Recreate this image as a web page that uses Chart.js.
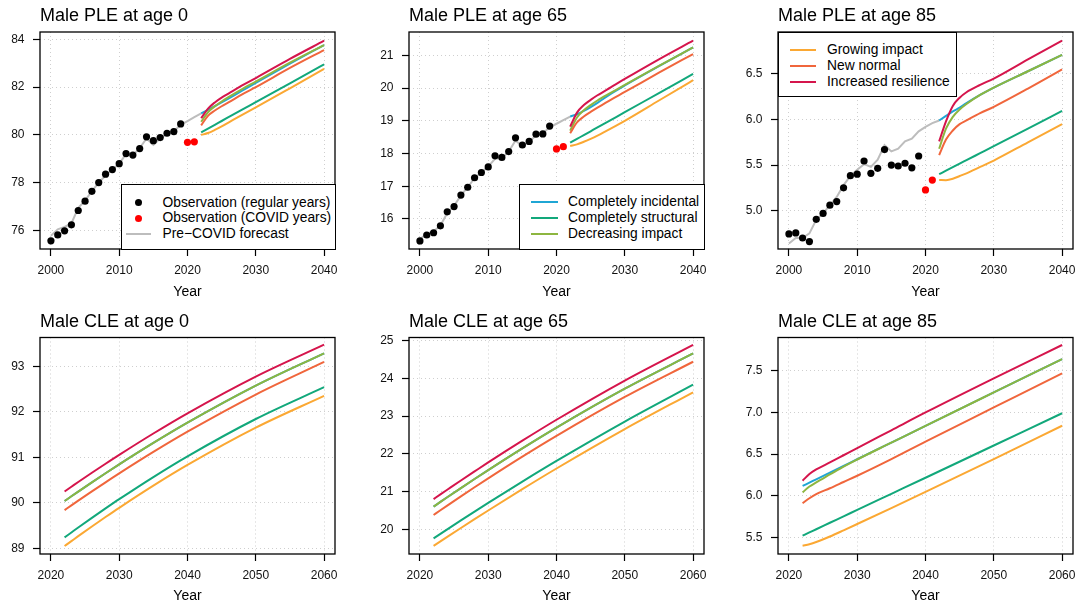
<!DOCTYPE html>
<html><head><meta charset="utf-8">
<script src="https://cdn.jsdelivr.net/npm/chart.js@4/dist/chart.umd.min.js"></script>
<style>
html,body{margin:0;padding:0;width:1080px;height:608px;overflow:hidden;background:#fff;font-family:"Liberation Sans",Arial,Helvetica,sans-serif;}
canvas{position:absolute;}
.leg{position:absolute;background:#fff;border:1px solid #000;box-sizing:border-box;font-size:13.8px;color:#000;z-index:5;}
.txt{position:absolute;white-space:nowrap;line-height:16px;height:16px;}
.sym{position:absolute;}
</style>
</head><body>
<script>
// ---------------- DATA ----------------
const obsYears   = [2000,2001,2002,2003,2004,2005,2006,2007,2008,2009,2010,2011,2012,2013,2014,2015,2016,2017,2018,2019];
const covidYears = [2020,2021];
const preYears   = [2000,2001,2002,2003,2004,2005,2006,2007,2008,2009,2010,2011,2012,2013,2014,2015,2016,2017,2018,2019,2020,2021,2022];
const pleYears   = [2022,2023,2024,2025,2026,2028,2030,2035,2040];
const cleYears   = [2022,2023,2024,2026,2028,2030,2035,2040,2050,2060];

const topXTicks = [2000,2010,2020,2030,2040];
const botXTicks = [2020,2030,2040,2050,2060];

// Male PLE at age 0
const ple0Obs   = [75.57,75.82,75.99,76.24,76.84,77.23,77.64,78.01,78.36,78.55,78.80,79.22,79.16,79.43,79.92,79.76,79.89,80.07,80.14,80.46];
const ple0Covid = [79.69,79.71];
const ple0Pre   = [75.78,76.05,76.15,76.30,76.95,77.25,77.65,78.00,78.30,78.55,78.80,79.20,79.15,79.45,79.85,79.58,79.85,80.05,80.15,80.42,80.58,80.74,80.90];
const ple0Incidental = [80.90,81.05,81.20,81.36,81.52,81.85,82.18,82.98,83.76];
const ple0Structural = [80.11,80.268,80.426,80.583,80.741,81.057,81.372,82.161,82.95];
const ple0Decreasing = [80.55,80.95,81.20,81.40,81.58,81.92,82.23,83.02,83.76];
const ple0Growing    = [80.00,80.08,80.21,80.36,80.52,80.84,81.15,81.95,82.76];
const ple0NewNormal  = [80.40,80.80,81.02,81.20,81.36,81.70,82.00,82.80,83.55];
const ple0Resilience = [80.70,81.10,81.36,81.56,81.73,82.07,82.38,83.18,83.94];
const ple0YTicks = [76,78,80,82,84];

// Male PLE at age 65
const ple65Obs   = [15.33,15.51,15.58,15.79,16.22,16.38,16.73,16.97,17.26,17.42,17.59,17.93,17.88,18.06,18.48,18.26,18.37,18.59,18.60,18.84];
const ple65Covid = [18.14,18.21];
const ple65Pre   = [15.38,15.55,15.62,15.80,16.18,16.40,16.72,16.97,17.25,17.42,17.60,17.84,17.86,18.06,18.40,18.22,18.37,18.55,18.62,18.80,18.91,19.02,19.13];
const ple65Incidental = [19.13,19.20,19.30,19.42,19.55,19.83,20.08,20.67,21.24];
const ple65Structural = [18.33,18.447,18.563,18.68,18.797,19.03,19.263,19.847,20.43];
const ple65Decreasing = [18.70,19.10,19.32,19.48,19.62,19.86,20.10,20.68,21.24];
const ple65Growing    = [18.23,18.28,18.36,18.45,18.55,18.77,19.00,19.62,20.24];
const ple65NewNormal  = [18.62,18.95,19.13,19.27,19.40,19.65,19.88,20.47,21.04];
const ple65Resilience = [18.82,19.25,19.48,19.64,19.78,20.03,20.28,20.88,21.45];
const ple65YTicks = [16,17,18,19,20,21];

// Male PLE at age 85
const ple85Obs   = [4.744,4.755,4.70,4.66,4.905,4.97,5.06,5.10,5.25,5.384,5.40,5.545,5.41,5.465,5.67,5.50,5.49,5.52,5.47,5.60];
const ple85Covid = [5.227,5.336];
const ple85Pre   = [4.64,4.70,4.70,4.75,4.90,4.97,5.06,5.15,5.28,5.38,5.45,5.51,5.48,5.56,5.72,5.65,5.68,5.76,5.79,5.87,5.92,5.96,5.99];
const ple85Incidental = [5.99,6.04,6.09,6.13,6.18,6.27,6.35,6.53,6.71];
const ple85Structural = [5.40,5.439,5.477,5.516,5.554,5.631,5.708,5.90,6.094];
const ple85Decreasing = [5.68,5.90,6.03,6.11,6.17,6.27,6.35,6.53,6.71];
const ple85Growing    = [5.336,5.335,5.35,5.38,5.41,5.48,5.55,5.75,5.95];
const ple85NewNormal  = [5.61,5.78,5.88,5.95,5.99,6.07,6.14,6.34,6.55];
const ple85Resilience = [5.76,5.98,6.15,6.24,6.30,6.38,6.45,6.66,6.866];
const ple85YTicks = [5.0,5.5,6.0,6.5];

// Male CLE at age 0
const cle0Incidental = [90.04,90.145,90.248,90.452,90.652,90.847,91.318,91.764,92.578,93.29];
const cle0Structural = [89.24,89.349,89.458,89.67,89.878,90.081,90.568,91.024,91.845,92.545];
const cle0Decreasing = [90.04,90.145,90.248,90.452,90.652,90.847,91.318,91.764,92.578,93.29];
const cle0Growing    = [89.05,89.159,89.268,89.48,89.688,89.891,90.378,90.834,91.655,92.355];
const cle0NewNormal  = [89.84,89.945,90.048,90.252,90.452,90.648,91.12,91.566,92.383,93.10];
const cle0Resilience = [90.25,90.354,90.458,90.662,90.861,91.056,91.526,91.97,92.777,93.48];
const cle0YTicks = [89,90,91,92,93];

// Male CLE at age 65
const cle65Incidental = [20.60,20.725,20.848,21.092,21.333,21.569,22.144,22.694,23.724,24.657];
const cle65Structural = [19.76,19.88,19.999,20.235,20.468,20.698,21.263,21.81,22.853,23.829];
const cle65Decreasing = [20.60,20.725,20.848,21.092,21.333,21.569,22.144,22.694,23.724,24.657];
const cle65Growing    = [19.56,19.68,19.799,20.035,20.268,20.498,21.063,21.61,22.653,23.629];
const cle65NewNormal  = [20.38,20.505,20.628,20.872,21.113,21.349,21.924,22.474,23.504,24.437];
const cle65Resilience = [20.80,20.925,21.048,21.293,21.533,21.771,22.347,22.901,23.939,24.886];
const cle65YTicks = [20,21,22,23,24,25];

// Male CLE at age 85
const cle85Incidental = [6.117,6.157,6.197,6.277,6.357,6.438,6.638,6.839,7.24,7.64];
const cle85Structural = [5.52,5.559,5.597,5.675,5.752,5.83,6.023,6.216,6.603,6.99];
const cle85Decreasing = [6.04,6.11,6.16,6.255,6.35,6.435,6.637,6.839,7.24,7.64];
const cle85Growing    = [5.40,5.418,5.444,5.51,5.584,5.66,5.852,6.046,6.44,6.84];
const cle85NewNormal  = [5.91,5.97,6.02,6.09,6.165,6.24,6.44,6.65,7.06,7.47];
const cle85Resilience = [6.18,6.26,6.315,6.40,6.486,6.572,6.786,7.00,7.41,7.81];
const cle85YTicks = [5.5,6.0,6.5,7.0,7.5];

const scenarioNames = ['Completely incidental','Completely structural','Decreasing impact','Growing impact','New normal','Increased resilience'];
const obsNames = ['Observation (regular years)','Observation (COVID years)','Pre\u2212COVID forecast'];

// ---------------- STYLE ----------------
const COL = {
  incidental:'#1fa6d4', structural:'#12a87b', decreasing:'#8db640',
  growing:'#fba833', newnormal:'#f0663c', resilience:'#d5154c',
  obs:'#000000', covid:'#ff0000', pre:'#bdbdbd'
};
Chart.defaults.font.family = '"Liberation Sans", Arial, Helvetica, sans-serif';
Chart.defaults.color = '#111';

function pts(xs, ys){ return xs.map((x,i)=>({x:x, y:ys[i]})); }
function lineDs(xs, ys, color, curved){
  return {data: pts(xs, ys), borderColor: color, backgroundColor: color, borderWidth: 2,
          pointRadius: 0, fill: false, showLine: true,
          cubicInterpolationMode: curved ? 'monotone' : 'default', tension: 0};
}
function dotDs(xs, ys, color){
  return {data: pts(xs, ys), showLine: false, pointRadius: 3.6, pointBorderWidth: 0,
          pointBackgroundColor: color, borderColor: color, backgroundColor: color};
}
function scenarioSets(xs, s){
  // first dataset is drawn on top
  return [
    lineDs(xs, s.res, COL.resilience, true),
    lineDs(xs, s.nn, COL.newnormal, true),
    lineDs(xs, s.gr, COL.growing, true),
    lineDs(xs, s.dec, COL.decreasing, true),
    lineDs(xs, s.str, COL.structural, true),
    lineDs(xs, s.inc, COL.incidental, true)
  ];
}

const boxPlugin = {id:'box', afterDatasetsDraw(chart){
  const a = chart.chartArea, ctx = chart.ctx;
  ctx.save(); ctx.strokeStyle = '#000'; ctx.lineWidth = 1.3;
  ctx.strokeRect(a.left, a.top, a.right - a.left, a.bottom - a.top);
  ctx.restore();
}};

function makePanel(p){
  const cv = document.createElement('canvas');
  cv.width = 360; cv.height = 304;
  cv.style.left = p.left + 'px'; cv.style.top = p.top + 'px';
  document.body.appendChild(cv);
  new Chart(cv.getContext('2d'), {
    type: 'line',
    data: {datasets: p.datasets},
    plugins: [boxPlugin],
    options: {
      responsive: false, animation: false, events: [],
      layout: {padding: {left: 0, right: 25, top: p.padTop, bottom: 0}},
      plugins: {
        legend: {display: false}, tooltip: {enabled: false},
        title: {display: true, text: p.title, align: 'start', fullSize: false, color: '#000',
                font: {size: 18, weight: 'normal'}, padding: {top: 5.3, bottom: 5.1}}
      },
      scales: {
        x: {type: 'linear', min: p.xMin, max: p.xMax,
            afterBuildTicks: s => { s.ticks = p.xTicks.map(v => ({value: v})); },
            afterFit: s => { s.height = p.xH; },
            ticks: {autoSkip: false, maxRotation: 0, padding: 7, color: '#111', font: {size: 12},
                    callback: v => String(v)},
            grid: {color: '#cfcfcf', lineWidth: 1, tickLength: 7, tickColor: '#000', tickWidth: 1.2},
            border: {display: false, dash: [1, 3]},
            title: {display: true, text: 'Year', color: '#000', font: {size: 14}, padding: {top: 0, bottom: 3}}},
        y: {type: 'linear', min: p.yMin, max: p.yMax,
            afterBuildTicks: s => { s.ticks = p.yTicks.map(v => ({value: v})); },
            afterFit: s => { s.width = 40; },
            ticks: {autoSkip: false, padding: 8.5, color: '#111', font: {size: 12},
                    callback: v => Number(v).toFixed(p.dec)},
            grid: {color: '#cfcfcf', lineWidth: 1, tickLength: 7, tickColor: '#000', tickWidth: 1.2},
            border: {display: false, dash: [1, 3]}}
      }
    }
  });
}

function makeLegend(l){
  const d = document.createElement('div');
  d.className = 'leg';
  d.style.left = l.left + 'px'; d.style.top = l.top + 'px';
  d.style.width = l.w + 'px'; d.style.height = l.h + 'px';
  l.items.forEach((it, i) => {
    const cy = l.rows[i];
    const s = document.createElement('div'); s.className = 'sym';
    if (it.type === 'dot') {
      s.style.left = (l.symX + l.symW/2 - 3.6) + 'px'; s.style.top = (cy - 3.6) + 'px';
      s.style.width = '7.2px'; s.style.height = '7.2px'; s.style.borderRadius = '50%'; s.style.background = it.color;
    } else {
      s.style.left = l.symX + 'px'; s.style.top = (cy - 1) + 'px';
      s.style.width = l.symW + 'px'; s.style.height = '2px'; s.style.background = it.color;
    }
    d.appendChild(s);
    const t = document.createElement('div'); t.className = 'txt';
    t.style.left = l.textX + 'px'; t.style.top = (cy - 8) + 'px';
    t.textContent = it.label;
    d.appendChild(t);
  });
  document.body.appendChild(d);
}

const topRow = {top: 0, padTop: 0, xH: 55, xMin: 1998.4, xMax: 2041.6, xTicks: topXTicks};
const botRow = {top: 304, padTop: 1.5, xH: 54, xMin: 2018.4, xMax: 2061.6, xTicks: botXTicks};

function plePanel(left, title, obs, covid, pre, s, yMin, yMax, yTicks, dec){
  return Object.assign({}, topRow, {left, title, yMin, yMax, yTicks, dec,
    datasets: [dotDs(obsYears, obs, COL.obs), dotDs(covidYears, covid, COL.covid)]
      .concat(scenarioSets(pleYears, s))
      .concat([lineDs(preYears, pre, COL.pre, false)])});
}
function clePanel(left, title, s, yMin, yMax, yTicks, dec){
  return Object.assign({}, botRow, {left, title, yMin, yMax, yTicks, dec,
    datasets: scenarioSets(cleYears, s)});
}

makePanel(plePanel(0, 'Male PLE at age 0', ple0Obs, ple0Covid, ple0Pre,
  {inc: ple0Incidental, str: ple0Structural, dec: ple0Decreasing, gr: ple0Growing, nn: ple0NewNormal, res: ple0Resilience},
  75.23, 84.305, ple0YTicks, 0));
makePanel(plePanel(369, 'Male PLE at age 65', ple65Obs, ple65Covid, ple65Pre,
  {inc: ple65Incidental, str: ple65Structural, dec: ple65Decreasing, gr: ple65Growing, nn: ple65NewNormal, res: ple65Resilience},
  15.083, 21.713, ple65YTicks, 0));
makePanel(plePanel(738, 'Male PLE at age 85', ple85Obs, ple85Covid, ple85Pre,
  {inc: ple85Incidental, str: ple85Structural, dec: ple85Decreasing, gr: ple85Growing, nn: ple85NewNormal, res: ple85Resilience},
  4.579, 6.961, ple85YTicks, 1));
makePanel(clePanel(0, 'Male CLE at age 0',
  {inc: cle0Incidental, str: cle0Structural, dec: cle0Decreasing, gr: cle0Growing, nn: cle0NewNormal, res: cle0Resilience},
  88.875, 93.638, cle0YTicks, 0));
makePanel(clePanel(369, 'Male CLE at age 65',
  {inc: cle65Incidental, str: cle65Structural, dec: cle65Decreasing, gr: cle65Growing, nn: cle65NewNormal, res: cle65Resilience},
  19.346, 25.079, cle65YTicks, 0));
makePanel(clePanel(738, 'Male CLE at age 85',
  {inc: cle85Incidental, str: cle85Structural, dec: cle85Decreasing, gr: cle85Growing, nn: cle85NewNormal, res: cle85Resilience},
  5.30, 7.90, cle85YTicks, 1));

// Legends
makeLegend({left: 121, top: 184, w: 215, h: 66, symX: 4, symW: 25, textX: 40.5, rows: [17.7, 33.3, 48.7],
  items: [{type:'dot', color: COL.obs, label: obsNames[0]}, {type:'dot', color: COL.covid, label: obsNames[1]},
          {type:'line', color: COL.pre, label: obsNames[2]}]});
makeLegend({left: 519, top: 184, w: 186, h: 66, symX: 11, symW: 27, textX: 48, rows: [17, 32.7, 48.7],
  items: [{type:'line', color: COL.incidental, label: scenarioNames[0]}, {type:'line', color: COL.structural, label: scenarioNames[1]},
          {type:'line', color: COL.decreasing, label: scenarioNames[2]}]});
makeLegend({left: 778, top: 32, w: 179, h: 65, symX: 11, symW: 26, textX: 48, rows: [17.3, 33, 49],
  items: [{type:'line', color: COL.growing, label: scenarioNames[3]}, {type:'line', color: COL.newnormal, label: scenarioNames[4]},
          {type:'line', color: COL.resilience, label: scenarioNames[5]}]});
</script>
</body></html>
